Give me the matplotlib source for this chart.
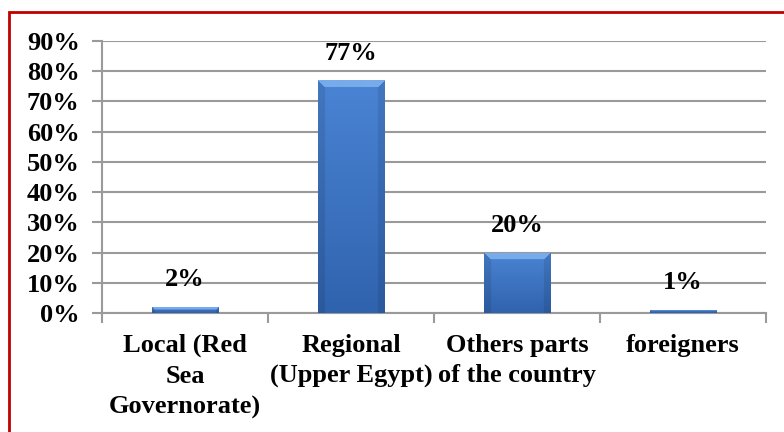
import matplotlib
matplotlib.use("Agg")
import matplotlib.pyplot as plt
import numpy as np
from matplotlib.ticker import FixedLocator, FuncFormatter
from matplotlib.patches import Rectangle

categories = ["Local (Red\nSea\nGovernorate)", "Regional\n(Upper Egypt)",
              "Others parts\nof the country", "foreigners"]
values = [2, 77, 20, 1]
y_ticks = [0, 10, 20, 30, 40, 50, 60, 70, 80, 90]

plt.rcParams["font.family"] = ["Liberation Serif", "DejaVu Serif"]
plt.rcParams["font.weight"] = "bold"

FS = 19
fig = plt.figure(figsize=(7.84, 4.32), dpi=100)
ax = fig.add_axes([0.130, 0.2755, 0.847, 0.6295])

grid_col = "#9a9a9a"
x = np.arange(len(categories))
width = 0.40

ax.set_xlim(-0.5, len(categories) - 0.5)
ax.set_ylim(0, 90)


def bevel_image(w_px, h_px, bevel=6):
    """Blue bar face with a light top bevel and darker sides."""
    w_px = max(int(round(w_px)), 2)
    h_px = max(int(round(h_px)), 2)
    top = np.array([0x4a, 0x84, 0xd4]) / 255.0
    bottom = np.array([0x30, 0x63, 0xae]) / 255.0
    t = np.linspace(0, 1, h_px)[:, None, None]
    img = top * (1 - t) + bottom * t
    img = np.repeat(img, w_px, axis=1)
    yy, xx = np.mgrid[0:h_px, 0:w_px]
    side = (xx < bevel) | (xx >= w_px - bevel)
    img[side] *= 0.9
    topband = (yy < bevel) & (xx >= yy) & (xx < w_px - yy)
    grad = np.array([0x78, 0xab, 0xea]) / 255.0
    img[topband] = grad
    return np.clip(img, 0, 1)


fig.canvas.draw()
px_per_x = ax.transData.transform((1, 0))[0] - ax.transData.transform((0, 0))[0]
px_per_y = ax.transData.transform((0, 1))[1] - ax.transData.transform((0, 0))[1]

for xi, v in zip(x, values):
    bar = ax.bar(xi, v, width=width, color="#3d75c5", edgecolor="#2f5c9c",
                 linewidth=0.6, zorder=3)[0]
    h_px = v * px_per_y
    img = bevel_image(width * px_per_x, h_px, bevel=min(7, max(1, int(h_px / 2))))
    im = ax.imshow(img, extent=(xi - width / 2, xi + width / 2, 0, v),
                   origin="upper", aspect="auto", zorder=3.5,
                   interpolation="bilinear")
    im.set_clip_path(bar)
    ax.annotate(f"{v}%", xy=(xi, v), xytext=(0, 19.5), textcoords="offset points",
                ha="center", va="center", fontsize=FS, fontweight="bold",
                zorder=5)

ax.yaxis.set_major_locator(FixedLocator(y_ticks))
ax.yaxis.set_major_formatter(FuncFormatter(lambda v, p: f"{int(v)}%"))
ax.grid(axis="y", color=grid_col, linewidth=1.5, zorder=0)
ax.set_axisbelow(True)

ax.set_xticks(np.arange(-0.5, len(categories), 1.0))
ax.set_xticklabels([])
ax.set_xticks(x, minor=True)
ax.set_xticklabels(categories, minor=True, fontsize=FS, fontweight="bold",
                   linespacing=1.42)
ax.tick_params(axis="x", which="minor", length=0, pad=15)
ax.tick_params(axis="x", which="major", length=7, width=1.5, color=grid_col,
               direction="out")
ax.tick_params(axis="y", length=7, width=1.5, color=grid_col, pad=9,
               labelsize=FS)
for lab in ax.get_yticklabels():
    lab.set_fontweight("bold")

for s in ["top", "right"]:
    ax.spines[s].set_visible(False)
for s in ["left", "bottom"]:
    ax.spines[s].set_color(grid_col)
    ax.spines[s].set_linewidth(1.5)

# red frame around the chart area
frame = Rectangle((8.5 / 784, -0.1), 1.2, 1 - 11.5 / 432 + 0.1,
                  transform=fig.transFigure, fill=False, edgecolor="#c00000",
                  linewidth=2.0, clip_on=False)
fig.patches.append(frame)

fig.savefig("out.png", dpi=100)
